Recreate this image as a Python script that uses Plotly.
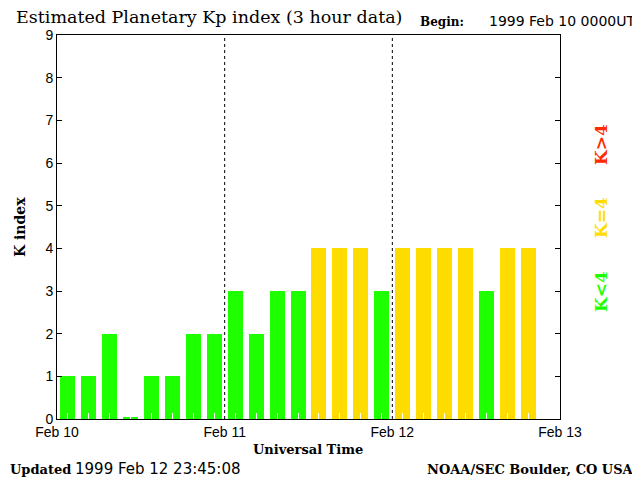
import plotly.graph_objects as go

# 3-hour Kp values starting 1999 Feb 10 0000UT (last interval not yet available)
kp_values = [1, 1, 2, 0.05, 1, 1, 2, 2,
             3, 2, 3, 3, 4, 4, 4, 3,
             4, 4, 4, 4, 3, 4, 4]
day_ticks = [0, 24, 48, 72]
day_labels = ["Feb 10", "Feb 11", "Feb 12", "Feb 13"]
y_ticks = list(range(10))

GREEN = "#1eff00"
YELLOW = "#ffdc00"
RED = "#ff2a00"
SERIF = "DejaVu Serif"
SANS = "Liberation Sans"

# the page body has an 8px margin, so figure pixels = window pixels - 8
OFF = 8
W, H = 640, 480
plot_l, plot_r, plot_t, plot_b = 57 - OFF, 560 - OFF, 35 - OFF, 419 - OFF


def kp_color(k):
    if k > 4:
        return RED
    if k == 4:
        return YELLOW
    return GREEN


hours = [1.5 + 3 * i for i in range(len(kp_values))]

fig = go.Figure()
fig.add_trace(
    go.Bar(
        x=hours,
        y=kp_values,
        width=2.15,
        marker=dict(color=[kp_color(k) for k in kp_values], line=dict(width=0)),
        hoverinfo="skip",
    )
)

# day separators
for d in day_ticks[1:3]:
    fig.add_shape(type="line", x0=d, x1=d, y0=0, y1=9, xref="x", yref="y",
                  line=dict(color="black", width=1, dash="dot"))

fig.update_layout(
    width=W,
    height=H,
    margin=dict(l=plot_l, r=W - plot_r, t=plot_t, b=H - plot_b),
    plot_bgcolor="white",
    paper_bgcolor="white",
    showlegend=False,
    bargap=0,
    xaxis=dict(
        range=[0, 72],
        tickvals=day_ticks,
        ticktext=day_labels,
        ticks="",
        showgrid=False,
        zeroline=False,
        showline=True,
        linecolor="black",
        linewidth=1,
        mirror=True,
        tickfont=dict(family=SANS, size=14, color="black"),
        minor=dict(tick0=1.5, dtick=3, ticks="inside", ticklen=6,
                   tickcolor="white", tickwidth=1, showgrid=False),
    ),
    yaxis=dict(
        range=[0, 9],
        tickvals=y_ticks,
        ticks="inside",
        ticklen=5,
        tickcolor="black",
        showgrid=False,
        zeroline=False,
        showline=True,
        linecolor="black",
        linewidth=1,
        mirror="ticks",
        tickfont=dict(family=SANS, size=14, color="black"),
    ),
)

# positions below are window pixels
annotations = [
    dict(text="Estimated Planetary Kp index (3 hour data)", x=14, y=17,
         xanchor="left", font=dict(family=SERIF, size=17.5)),
    dict(text="<b>Begin:</b>", x=418, y=22, xanchor="left",
         font=dict(family=SERIF, size=12)),
    dict(text="1999 Feb 10 0000UT", x=637, y=21, xanchor="right",
         font=dict(family="DejaVu Sans", size=14)),
    dict(text="<b>K index</b>", x=20, y=227, textangle=-90,
         font=dict(family=SERIF, size=14)),
    dict(text="<b>Universal Time</b>", x=308, y=449,
         font=dict(family=SERIF, size=13)),
    dict(text="<b>Updated</b>", x=8, y=469, xanchor="left",
         font=dict(family=SERIF, size=13)),
    dict(text="1999 Feb 12 23:45:08", x=73, y=469, xanchor="left",
         font=dict(family="DejaVu Sans", size=15)),
    dict(text="<b>NOAA/SEC Boulder, CO USA</b>", x=636, y=469, xanchor="right",
         font=dict(family=SERIF, size=13)),
    dict(text="<b>K&gt;4</b>", x=601, y=145, textangle=-90,
         font=dict(family=SERIF, size=17, color=RED)),
    dict(text="<b>K=4</b>", x=601, y=218, textangle=-90,
         font=dict(family=SERIF, size=17, color=YELLOW)),
    dict(text="<b>K&lt;4</b>", x=601, y=292, textangle=-90,
         font=dict(family=SERIF, size=17, color=GREEN)),
]
for a in annotations:
    px = a["x"] - OFF
    py = a["y"] - OFF
    a["x"] = (px - plot_l) / (plot_r - plot_l)
    a["y"] = (plot_b - py) / (plot_b - plot_t)
    a.setdefault("xanchor", "center")
    a["yanchor"] = "middle"
    a["xref"] = "paper"
    a["yref"] = "paper"
    a["showarrow"] = False
    a["font"].setdefault("color", "black")
    fig.add_annotation(**a)

fig.write_html("out.html")
